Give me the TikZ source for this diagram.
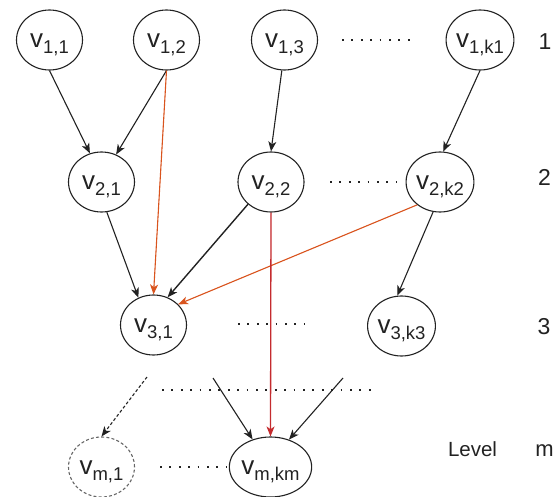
\documentclass[tikz,border=0pt]{standalone}
\usepackage{fontspec}
\setmainfont{Liberation Sans}
\usetikzlibrary{arrows.meta,shapes.geometric}

\definecolor{ink}{HTML}{222222}
\definecolor{edgeorange}{HTML}{D9541E}
\definecolor{edgered}{HTML}{C42B2E}
\definecolor{ghost}{HTML}{666666}

% vertex label: large v with a lowered index
\newcommand{\vlab}[1]{{\fontsize{26}{26}\selectfont v}\raisebox{-6pt}{\fontsize{18.5}{18.5}\selectfont #1}}

\tikzset{
  vertex/.style={ellipse, draw=ink, line width=1.1pt, minimum width=66pt,
    minimum height=60pt, inner sep=0pt, text=ink, text height=15pt, text depth=0pt},
  ghostvertex/.style={vertex, draw=ghost, dash pattern=on 3pt off 2.2pt},
  edge/.style={draw=ink, line width=1.1pt, -{Stealth[length=10pt,width=8pt,inset=2.8pt]}},
  ghostedge/.style={edge, dash pattern=on 3pt off 2.2pt},
  orangeedge/.style={edge, draw=edgeorange, fill=edgeorange},
  rededge/.style={edge, draw=edgered, fill=edgered, line width=1.3pt},
  dots/.style={draw=ink, line width=1.8pt, dash pattern=on 1.8pt off 7.6pt},
  levellabel/.style={text=ink, font=\fontsize{23}{23}\selectfont, inner sep=0pt},
}

\begin{document}
\begin{tikzpicture}[x=1pt, y=-1pt]
\useasboundingbox (0,0) rectangle (559,497);

% level 1
\node[vertex] (v11) at (49.5,40) {\vlab{1,1}};
\node[vertex] (v12) at (166.5,40) {\vlab{1,2}};
\node[vertex] (v13) at (284.5,40) {\vlab{1,3}};
\node[vertex] (v1k) at (480,40) {\vlab{1,k1}};

% level 2
\node[vertex] (v21) at (101.5,182) {\vlab{2,1}};
\node[vertex] (v22) at (271,182) {\vlab{2,2}};
\node[vertex] (v2k) at (440,182) {\vlab{2,k2}};

% level 3
\node[vertex] (v31) at (153.5,325) {\vlab{3,1}};
\node[vertex] (v3k) at (401.5,326) {\vlab{3,k3}};

% level m
\node[ghostvertex] (vm1) at (101.5,467) {\vlab{m,1}};
\node[vertex] (vmk) at (270.5,467) {\vlab{m,km}};

% level numbers
\node[levellabel] (l1) at (545,42) {1};
\node[levellabel] (l2) at (544.5,177) {2};
\node[levellabel] (l3) at (544,327) {3};
\node[text=ink, font=\fontsize{20.5}{20.5}\selectfont, inner sep=0pt, anchor=base] (lvl) at (472.5,456) {Level};
\node[text=ink, font=\fontsize{22}{22}\selectfont, inner sep=0pt, anchor=base] (lm) at (544.5,456) {m};

% elided vertices
\draw[dots] (342,40) -- (410,40);
\draw[dots] (330,182) -- (397,182);
\draw[dots] (238,324) -- (305,324);
\draw[dots] (160,467) -- (227,467);
\draw[dots] (162,390) -- (375,390);

% free ends of the edges coming from omitted levels
\coordinate (fa) at (147,377);
\coordinate (fb) at (213,378);
\coordinate (fc) at (343,378);

% edges
\draw[edge] (v11.south) -- (v21.112);
\draw[edge] (v12.south) -- (v21.62);
\draw[orangeedge] (v12.south) -- (v31.north);
\draw[edge] (v13.265) -- (v22.north);
\draw[edge] (v1k.south) -- (v2k.84);
\draw[edge] (v21.280) -- (v31.119);
\draw[edge, line width=1.4pt] (v22.224) -- (v31.63);
\draw[orangeedge] (v2k.225) -- (v31.40);
\draw[edge] (v2k.257) -- (v3k.98);
\draw[rededge] (v22.south) -- (vmk.north);
\draw[edge] (fb) -- (vmk.123);
\draw[edge] (fc) -- (vmk.56);
\draw[ghostedge] (fa) -- (vm1.north);
\end{tikzpicture}
\end{document}
